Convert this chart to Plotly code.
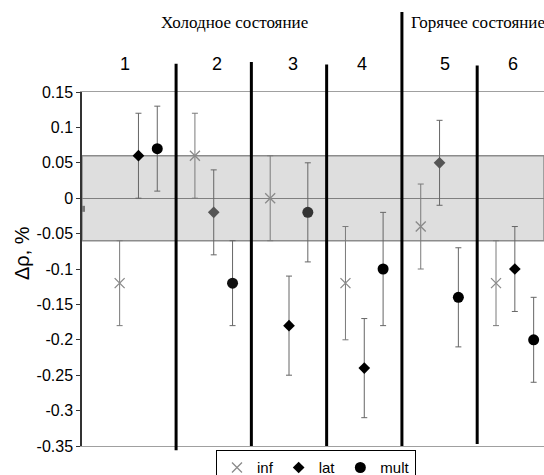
import plotly.graph_objects as go

# ---- data ----
groups = ["1", "2", "3", "4", "5", "6"]
inf_vals = [-0.12, 0.06, 0.00, -0.12, -0.04, -0.12]
inf_err = [0.06, 0.06, 0.06, 0.08, 0.06, 0.06]
lat_vals = [0.06, -0.02, -0.18, -0.24, 0.05, -0.10]
lat_err = [0.06, 0.06, 0.07, 0.07, 0.06, 0.06]
mult_vals = [0.07, -0.12, -0.02, -0.10, -0.14, -0.20]
mult_err = [0.06, 0.06, 0.07, 0.08, 0.07, 0.06]
edge_val = [-0.015]
y_ticks = [0.15, 0.1, 0.05, 0, -0.05, -0.1, -0.15, -0.2, -0.25, -0.3, -0.35]
y_ticktext = ["0.15", "0.1", "0.05", "0", "-0.05", "-0.1", "-0.15", "-0.2", "-0.25", "-0.3", "-0.35"]
band = [-0.06, 0.06]
cold_label = "Холодное состояние"
hot_label = "Горячее состояние"

# slot positions: 4 slots per group (inf, lat, mult, separator)
def slot(g, s):
    return 4 * g + 2 + s

xs_inf = [slot(g, 0) for g in range(len(groups))]
xs_lat = [slot(g, 1) for g in range(len(groups))]
xs_mult = [slot(g, 2) for g in range(len(groups))]
sep_x = [4 * g + 1 for g in range(1, len(groups))]

SANS = "Liberation Sans, Arial, sans-serif"
SERIF = "Liberation Serif, Times New Roman, serif"

fig = go.Figure()

fig.add_trace(go.Scatter(
    x=[0], y=edge_val, mode="markers", showlegend=False, cliponaxis=True,
    marker=dict(symbol="square", size=6, color="#777777"), hoverinfo="skip"))

fig.add_trace(go.Scatter(
    x=xs_inf, y=inf_vals, mode="markers", name="inf",
    error_y=dict(type="data", array=inf_err, color="#7a7a7a", thickness=1, width=3),
    marker=dict(symbol="x-thin-open", size=10, color="#8a8a8a",
                line=dict(color="#8a8a8a", width=1.3))))

fig.add_trace(go.Scatter(
    x=xs_lat, y=lat_vals, mode="markers", name="lat",
    error_y=dict(type="data", array=lat_err, color="#666666", thickness=1, width=3),
    marker=dict(symbol="diamond", size=9,
                color=["#000000", "#555555", "#000000", "#000000", "#555555", "#000000"])))

fig.add_trace(go.Scatter(
    x=xs_mult, y=mult_vals, mode="markers", name="mult",
    error_y=dict(type="data", array=mult_err, color="#666666", thickness=1, width=3),
    marker=dict(symbol="circle", size=11,
                color=["#000000", "#111111", "#333333", "#000000", "#000000", "#000000"])))

shapes = [dict(type="rect", xref="paper", yref="y", x0=0, x1=1, y0=band[0], y1=band[1],
               fillcolor="#dedede", line=dict(color="#8c8c8c", width=1.5), layer="below")]
tops = [1.08, 1.085, 1.078, 1.226, 1.075]
bottoms = [-0.012, 0.0, 0.0, 0.0, 0.006]
for xv, t, b in zip(sep_x, tops, bottoms):
    shapes.append(dict(type="line", xref="x", yref="paper", x0=xv, x1=xv, y0=b, y1=t,
                       line=dict(color="black", width=3), layer="above"))

label_x = [2.3, 7.2, 11.2, 14.9, 19.3, 22.9]
annotations = []
for lx, g in zip(label_x, groups):
    annotations.append(dict(x=lx, y=1.078, xref="x", yref="paper", text=g, showarrow=False,
                            font=dict(family=SANS, size=18, color="black"),
                            xanchor="center", yanchor="middle"))
annotations.append(dict(x=8.1, y=1.195, xref="x", yref="paper", text=cold_label, showarrow=False,
                        font=dict(family=SERIF, size=17, color="black"),
                        xanchor="center", yanchor="middle"))
annotations.append(dict(x=17.4, y=1.195, xref="x", yref="paper", text=hot_label, showarrow=False,
                        font=dict(family=SERIF, size=17, color="black"),
                        xanchor="left", yanchor="middle"))
annotations.append(dict(x=-0.13, y=0.545, xref="paper", yref="paper", text="Δρ, %",
                        showarrow=False, textangle=-90,
                        font=dict(family=SANS, size=20, color="black"),
                        xanchor="center", yanchor="middle"))

fig.update_layout(
    width=544, height=475,
    margin=dict(l=82, r=0, t=92, b=29, autoexpand=False),
    paper_bgcolor="white", plot_bgcolor="white",
    shapes=shapes, annotations=annotations,
    showlegend=True,
    legend=dict(orientation="h", x=0.29, xanchor="left", y=-0.012, yanchor="top",
                bordercolor="black", borderwidth=1, bgcolor="white",
                font=dict(family=SANS, size=15, color="black"),
                itemwidth=30, tracegroupgap=0),
    xaxis=dict(range=[0, 24.55], showgrid=False, zeroline=False, showticklabels=False,
               ticks="", showline=True, mirror=True, linecolor="#a0a0a0", linewidth=1),
    yaxis=dict(range=[-0.35, 0.15], tickvals=y_ticks, ticktext=y_ticktext,
               showgrid=False, zeroline=True, zerolinecolor="#808080", zerolinewidth=1,
               showline=True, linecolor="#333333", linewidth=1.5,
               ticks="outside", ticklen=4, tickcolor="#333333",
               tickfont=dict(family=SANS, size=16, color="black")),
)

# remove the default page margin so the 544x475 figure fills the window exactly
fig.write_html("out.html", config={"displayModeBar": False},
               post_script="document.body.style.margin='0';document.body.style.overflow='hidden';")
